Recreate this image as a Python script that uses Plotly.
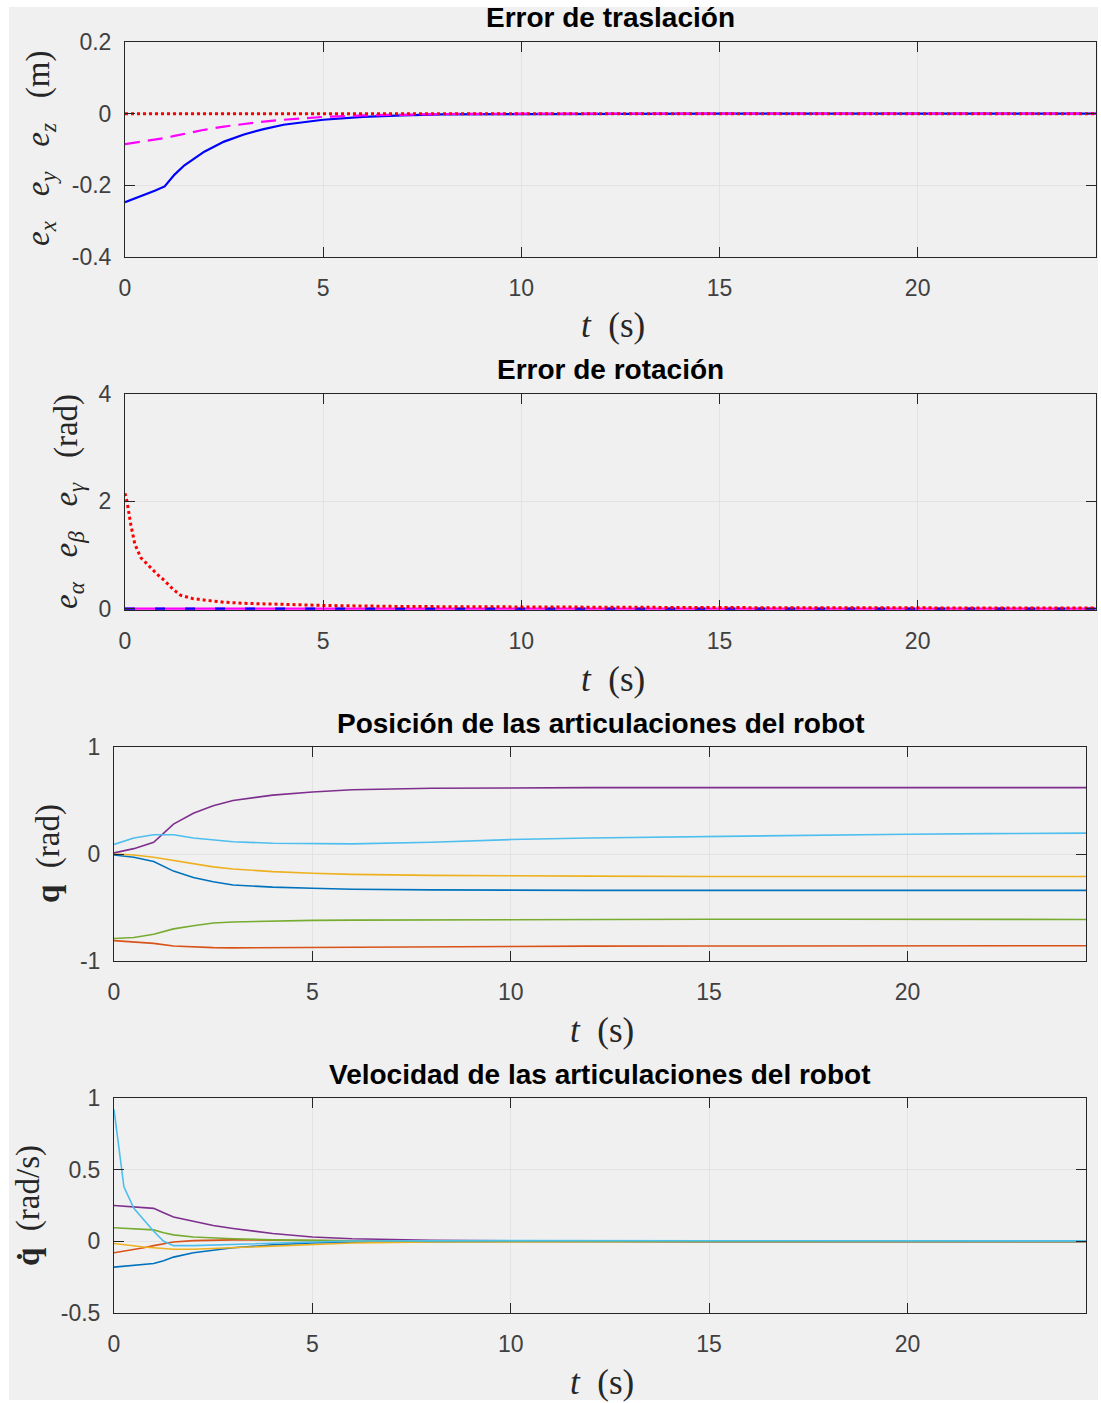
import plotly.graph_objects as go

W, H = 1101, 1403

# ---------------- data ----------------
t_tr = [0, 0.25, 0.5, 0.75, 1.0, 1.25, 1.5, 2, 2.5, 3, 3.5, 4, 5, 6, 7, 8, 10, 12, 15, 20, 24.5]
ex = [-0.247, -0.237, -0.226, -0.215, -0.203, -0.170, -0.144, -0.106, -0.078, -0.058, -0.043,
      -0.031, -0.017, -0.009, -0.005, -0.002, -0.001, 0, 0, 0, 0]
ey = [-0.085, -0.081, -0.077, -0.073, -0.068, -0.062, -0.056, -0.045, -0.036, -0.028, -0.022,
      -0.017, -0.009, -0.005, -0.003, -0.001, 0, 0, 0, 0, 0]
ez = [0] * len(t_tr)

t_rot = [0, 0.05, 0.15, 0.25, 0.4, 0.6, 0.8, 1.0, 1.2, 1.4, 1.7, 2.0, 2.5, 3, 4, 5, 7, 10, 15, 20, 24.5]
e_alpha = [0] * len(t_rot)
e_beta = [0] * len(t_rot)
e_gamma = [2.15, 2.0, 1.55, 1.2, 0.95, 0.8, 0.65, 0.52, 0.37, 0.25, 0.19, 0.16, 0.12, 0.10,
           0.08, 0.06, 0.04, 0.03, 0.02, 0.015, 0.01]

t_q = [0, 0.5, 1.0, 1.5, 2, 2.5, 3, 4, 5, 6, 8, 10, 12, 15, 18, 20, 22, 24.5]
q1 = [-0.01, -0.03, -0.07, -0.16, -0.22, -0.26, -0.29, -0.31, -0.32, -0.33, -0.335, -0.34,
      -0.34, -0.34, -0.34, -0.34, -0.34, -0.34]
q2 = [-0.81, -0.82, -0.835, -0.86, -0.87, -0.875, -0.877, -0.875, -0.87, -0.868, -0.865,
      -0.862, -0.861, -0.86, -0.859, -0.858, -0.858, -0.857]
q3 = [0, -0.01, -0.03, -0.06, -0.09, -0.12, -0.14, -0.165, -0.18, -0.19, -0.2, -0.205,
      -0.207, -0.21, -0.21, -0.21, -0.21, -0.21]
q4 = [0.01, 0.05, 0.11, 0.28, 0.38, 0.45, 0.50, 0.55, 0.58, 0.60, 0.615, 0.62, 0.62, 0.62,
      0.62, 0.62, 0.62, 0.62]
q5 = [-0.79, -0.78, -0.75, -0.70, -0.67, -0.645, -0.635, -0.625, -0.62, -0.618, -0.615,
      -0.612, -0.611, -0.61, -0.61, -0.611, -0.611, -0.612]
q6 = [0.09, 0.15, 0.18, 0.18, 0.15, 0.13, 0.115, 0.10, 0.095, 0.095, 0.11, 0.135, 0.15,
      0.165, 0.175, 0.185, 0.19, 0.195]

t_qd = [0, 0.25, 0.5, 0.75, 1.0, 1.25, 1.5, 2, 2.5, 3, 4, 5, 6, 8, 10, 15, 24.5]
qd1 = [-0.18, -0.175, -0.17, -0.16, -0.155, -0.135, -0.11, -0.08, -0.06, -0.045, -0.025,
       -0.012, -0.006, -0.002, 0, 0, 0]
qd2 = [-0.08, -0.07, -0.06, -0.045, -0.03, -0.015, -0.005, 0.005, 0.01, 0.01, 0.008, 0.005,
       0.003, 0.001, 0, 0, 0]
qd3 = [-0.015, -0.025, -0.035, -0.04, -0.045, -0.05, -0.055, -0.055, -0.05, -0.045, -0.03,
       -0.02, -0.012, -0.005, -0.002, 0, 0]
qd4 = [0.25, 0.245, 0.24, 0.235, 0.23, 0.20, 0.17, 0.14, 0.11, 0.09, 0.055, 0.03, 0.018,
       0.008, 0.003, 0, 0]
qd5 = [0.095, 0.092, 0.09, 0.085, 0.08, 0.06, 0.045, 0.03, 0.022, 0.018, 0.01, 0.005,
       0.003, 0.001, 0, 0, 0]
qd6 = [0.92, 0.38, 0.23, 0.15, 0.07, 0.0, -0.03, -0.03, -0.025, -0.02, -0.012, -0.005,
       0.002, 0.004, 0.005, 0.004, 0.003]

x_ticks = [0, 5, 10, 15, 20]
y1_ticks = [-0.4, -0.2, 0, 0.2]
y2_ticks = [0, 2, 4]
y3_ticks = [-1, 0, 1]
y4_ticks = [-0.5, 0, 0.5, 1]

titles = ["Error de traslación", "Error de rotación",
          "Posición de las articulaciones del robot",
          "Velocidad de las articulaciones del robot"]

matlab_colors = ["#0072BD", "#D95319", "#EDB120", "#7E2F8E", "#77AC30", "#4DBEEE"]

# ---------------- layout helpers (pixel boxes) ----------------
boxes = [  # left, right, top, bottom in page pixels
    (125, 1096, 42, 257),
    (125, 1096, 394, 610),
    (114, 1086, 747, 961),
    (114, 1086, 1098, 1313),
]

def px(x):
    return x / W

def py(y):
    return 1 - y / H

fig = go.Figure()

def add(i, x, y, color, width=2.0, dash="solid"):
    sfx = "" if i == 0 else str(i + 1)
    fig.add_trace(go.Scatter(x=x, y=y, mode="lines", xaxis="x" + sfx, yaxis="y" + sfx,
                             line=dict(color=color, width=width, dash=dash),
                             showlegend=False, hoverinfo="skip"))

add(0, t_tr, ex, "#0000FF", 2.2)
add(0, t_tr, ey, "#FF00FF", 2.2, "15px,8px")
add(0, t_tr, ez, "#FF0000", 3, "3px,3px")

add(1, t_rot, e_beta, "#FF00FF", 2.2)
add(1, t_rot, e_alpha, "#0000FF", 2.2, "10px,20px")
add(1, t_rot, e_gamma, "#FF0000", 3, "3px,3px")

for series, c in zip([q1, q2, q3, q4, q5, q6], matlab_colors):
    add(2, t_q, series, c, 1.6)
for series, c in zip([qd1, qd2, qd3, qd4, qd5, qd6], matlab_colors):
    add(3, t_qd, series, c, 1.6)

tick_font = dict(family="Liberation Sans, Arial, sans-serif", size=23, color="#404040")
axis_common = dict(showline=True, linecolor="#262626", linewidth=1, mirror="ticks",
                   ticks="inside", ticklen=10, tickwidth=1, tickcolor="#262626",
                   showgrid=True, gridcolor="#e3e3e3", gridwidth=1, zeroline=False,
                   tickfont=tick_font, automargin=False, fixedrange=True)

yranges = [(-0.4, 0.2), (-0.025, 4), (-1, 1), (-0.5, 1)]
yticks = [y1_ticks, y2_ticks, y3_ticks, y4_ticks]

layout = {}
for i, (l, r, tp, b) in enumerate(boxes):
    sfx = "" if i == 0 else str(i + 1)
    layout["xaxis" + sfx] = dict(axis_common, domain=[px(l), px(r)], range=[0, 24.5],
                                 anchor="y" + sfx, tickvals=x_ticks,
                                 ticktext=[str(v) for v in x_ticks],
                                 ticklabelstandoff=10)
    layout["yaxis" + sfx] = dict(axis_common, domain=[py(b), py(tp)], range=list(yranges[i]),
                                 anchor="x" + sfx, tickvals=yticks[i],
                                 ticktext=[("%g" % v) for v in yticks[i]],
                                 ticklabelstandoff=8)

annotations = []
title_font = dict(family="Liberation Sans, Arial, sans-serif", size=28, color="#000000")
serif = "Liberation Serif, Times New Roman, serif"
for i, (l, r, tp, b) in enumerate(boxes):
    cx = (l + r) / 2
    annotations.append(dict(text="<b>%s</b>" % titles[i], x=px(cx), y=py(tp - 24),
                            xref="paper", yref="paper", xanchor="center", yanchor="middle",
                            showarrow=False, font=title_font))
    annotations.append(dict(text="<i>t</i>  (s)", x=px(cx + 2), y=py(b + 69),
                            xref="paper", yref="paper", xanchor="center", yanchor="middle",
                            showarrow=False, font=dict(family=serif, size=35, color="#262626")))

ylabels = [
    ("<i>e<sub>x</sub></i>   <i>e<sub>y</sub></i>   <i>e<sub>z</sub></i>   (m)", 40, 149),
    ("<i>e<sub>α</sub></i>   <i>e<sub>β</sub></i>   <i>e<sub>γ</sub></i>   (rad)", 68, 502),
    ("<b>q</b>  (rad)", 48, 854),
    ("<b>q̇</b>  (rad/s)", 28, 1206),
]
for txt, x, y in ylabels:
    annotations.append(dict(text=txt, x=px(x), y=py(y), xref="paper", yref="paper",
                            xanchor="center", yanchor="middle", textangle=-90,
                            showarrow=False, font=dict(family=serif, size=33, color="#262626")))

fig.update_layout(
    width=W, height=H,
    margin=dict(l=0, r=0, t=0, b=0, pad=0),
    paper_bgcolor="#ffffff", plot_bgcolor="#ffffff",
    showlegend=False,
    annotations=annotations,
    shapes=[dict(type="rect", xref="paper", yref="paper", x0=px(9), x1=px(1098),
                 y0=py(1400), y1=py(7), fillcolor="#f0f0f0", line=dict(width=0),
                 layer="below")],
    **layout,
)

fig.write_html("out.html", config={"displayModeBar": False, "staticPlot": True},
               post_script="document.body.style.margin='0px';")
